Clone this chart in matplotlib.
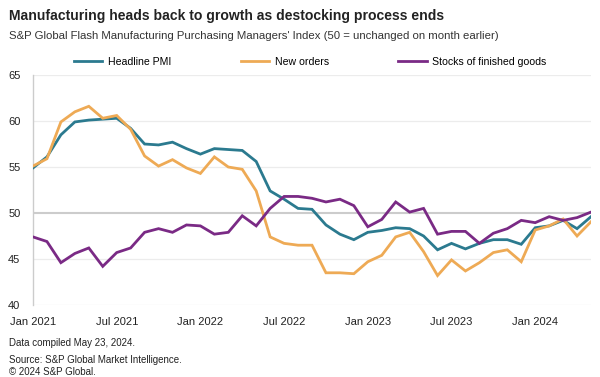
import matplotlib
matplotlib.use("Agg")
import matplotlib.pyplot as plt
import numpy as np

plt.rcParams['font.family'] = ['Liberation Sans', 'DejaVu Sans']

months = list(range(41))  # Jan 2021 .. May 2024
tick_pos = [0, 6, 12, 18, 24, 30, 36]
tick_labels = ["Jan 2021", "Jul 2021", "Jan 2022", "Jul 2022", "Jan 2023", "Jul 2023", "Jan 2024"]

headline = [54.9, 56.1, 58.5, 59.9, 60.1, 60.2, 60.3, 59.2, 57.5, 57.4,
            57.7, 57.0, 56.4, 57.0, 56.9, 56.8, 55.6, 52.4, 51.5, 50.5,
            50.4, 48.7, 47.7, 47.1, 47.9, 48.1, 48.4, 48.3, 47.5, 46.0,
            46.7, 46.1, 46.7, 47.1, 47.1, 46.6, 48.4, 48.6, 49.2, 48.3, 49.6]
new_orders = [55.1, 55.9, 59.9, 61.0, 61.6, 60.3, 60.6, 59.1, 56.2, 55.1,
              55.8, 54.9, 54.3, 56.1, 55.0, 54.75, 52.4, 47.4, 46.7, 46.5,
              46.5, 43.5, 43.5, 43.4, 44.7, 45.4, 47.4, 47.9, 45.8, 43.2,
              44.9, 43.7, 44.6, 45.7, 46.0, 44.7, 48.15, 48.6, 49.35, 47.5, 49.05]
stocks = [47.4, 46.9, 44.6, 45.6, 46.2, 44.2, 45.7, 46.2, 47.9, 48.3,
          47.9, 48.7, 48.6, 47.7, 47.9, 49.7, 48.6, 50.5, 51.8, 51.8,
          51.6, 51.2, 51.5, 50.8, 48.5, 49.3, 51.2, 50.1, 50.5, 47.7,
          48.0, 48.0, 46.7, 47.8, 48.3, 49.2, 48.95, 49.6, 49.2, 49.5, 50.1]

series_names = ["Headline PMI", "New orders", "Stocks of finished goods"]
colors = ["#2b7a8f", "#eeaa55", "#7a2a85"]

fig = plt.figure(figsize=(6.0, 3.77), dpi=100)
ax = fig.add_axes([0.055, 0.191, 0.93, 0.61])

for vals, name, c in zip([headline, new_orders, stocks], series_names, colors):
    ax.plot(months, vals, color=c, lw=2.0, label=name, solid_joinstyle='miter', zorder=3)

ax.set_xlim(0, 40)
ax.set_ylim(40, 65)
ax.set_yticks([40, 45, 50, 55, 60, 65])
for y in [40, 45, 55, 60, 65]:
    ax.axhline(y, color="#ececec", lw=0.9, zorder=1)
ax.axhline(50, color="#cccccc", lw=1.5, zorder=2)
ax.set_xticks(tick_pos)
ax.set_xticklabels(tick_labels)
ax.tick_params(axis='both', length=0, labelsize=8, colors="#222222")
ax.tick_params(axis='y', pad=9)
ax.tick_params(axis='x', pad=9)
for s in ["top", "right", "bottom"]:
    ax.spines[s].set_visible(False)
ax.spines["left"].set_color("#cccccc")
ax.spines["left"].set_linewidth(1.0)

fig.text(0.015, 0.958, "Manufacturing heads back to growth as destocking process ends",
         fontsize=10.1, fontweight="bold", color="#222222", va="center")
fig.text(0.015, 0.904, "S&P Global Flash Manufacturing Purchasing Managers' Index (50 = unchanged on month earlier)",
         fontsize=8.2, color="#333333", va="center")

handles, labels = ax.get_legend_handles_labels()
fig.legend(handles, labels, loc="center", bbox_to_anchor=(0.517, 0.836), ncol=3,
           frameon=False, fontsize=7.6, handlelength=2.7, columnspacing=6.6,
           handletextpad=0.5)

fig.text(0.015, 0.091, "Data compiled May 23, 2024.", fontsize=7, color="#222222", va="center")
fig.text(0.015, 0.045, "Source: S&P Global Market Intelligence.", fontsize=7, color="#222222", va="center")
fig.text(0.015, 0.013, "© 2024 S&P Global.", fontsize=7, color="#222222", va="center")

fig.savefig("out.png", dpi=100)
